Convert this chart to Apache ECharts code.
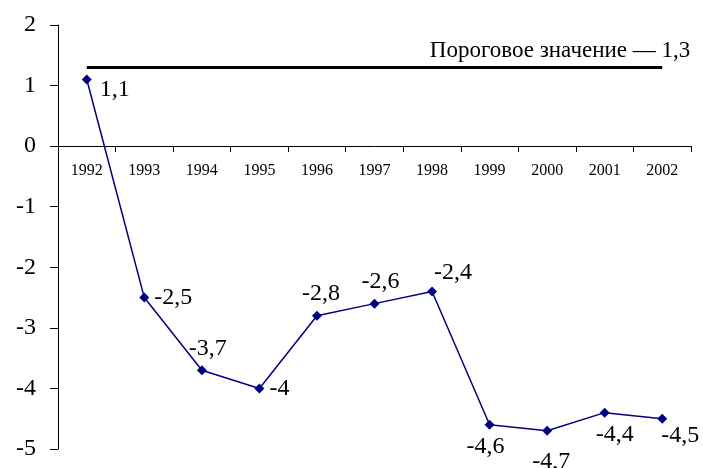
<!DOCTYPE html>
<html lang="ru" style="height: 100%">
<head>
  <meta charset="utf-8">
</head>
<body style="height: 100%; margin: 0; background: #fff">
  <div id="container" style="height: 100%"></div>

  <script type="text/javascript" src="https://fastly.jsdelivr.net/npm/echarts@6/dist/echarts.min.js"></script>

  <script type="text/javascript">
    const years = ['1992', '1993', '1994', '1995', '1996', '1997', '1998', '1999', '2000', '2001', '2002'];
    const values = [1.1, -2.5, -3.7, -4, -2.8, -2.6, -2.4, -4.6, -4.7, -4.4, -4.5];
    const threshold = 1.3;
    const thresholdText = 'Пороговое значение — 1,3';

    // where each value label sits relative to its point
    const labelPlace = [
      { position: 'right', offset: [3, 10] },
      { position: 'right', offset: [0, 0] },
      { position: 'top', offset: [6, 0] },
      { position: 'right', offset: [0, 0] },
      { position: 'top', offset: [4, 0] },
      { position: 'top', offset: [6, 0] },
      { position: 'top', offset: [21, 3] },
      { position: 'bottom', offset: [-4, 0] },
      { position: 'bottom', offset: [4, 9] },
      { position: 'bottom', offset: [10, 0] },
      { position: 'bottom', offset: [18, -5] }
    ];

    const font = '"Liberation Serif", "Times New Roman", serif';
    const fmt = v => String(v).replace('.', ',');

    var dom = document.getElementById('container');
    var myChart = echarts.init(dom, null, { renderer: 'canvas' });

    var option = {
      animation: false,
      textStyle: { fontFamily: font, color: '#000' },
      grid: { left: 58, right: 12, top: 25, bottom: 19 },
      xAxis: {
        type: 'category',
        data: years,
        boundaryGap: true,
        // category axis sits on the zero line
        offset: -303,
        axisLine: { onZero: false, lineStyle: { color: '#000', width: 1 } },
        axisTick: { show: true, length: 6, lineStyle: { color: '#000' } },
        axisLabel: { color: '#000', fontFamily: font, fontSize: 16, margin: 17 },
        splitLine: { show: false }
      },
      yAxis: {
        type: 'value',
        min: -5,
        max: 2,
        interval: 1,
        axisLine: { show: true, lineStyle: { color: '#000', width: 1 } },
        axisTick: { show: true, length: 8, lineStyle: { color: '#000' } },
        axisLabel: { color: '#000', fontFamily: font, fontSize: 24, margin: 22 },
        splitLine: { show: false }
      },
      series: [
        {
          name: 'threshold',
          type: 'line',
          symbol: 'circle',
          symbolSize: 0,
          lineStyle: { color: '#000', width: 3 },
          itemStyle: { color: '#000' },
          silent: true,
          data: years.map((y, i) => i === years.length - 1 ? {
            value: threshold,
            label: {
              show: true,
              formatter: thresholdText,
              position: 'top',
              align: 'right',
              offset: [28, 0],
              color: '#000',
              fontFamily: font,
              fontSize: 23
            }
          } : threshold)
        },
        {
          name: 'values',
          type: 'line',
          symbol: 'diamond',
          symbolSize: 10,
          lineStyle: { color: '#000080', width: 1.5 },
          itemStyle: { color: '#000080' },
          data: values.map((v, i) => ({
            value: v,
            label: {
              show: true,
              position: labelPlace[i].position,
              offset: labelPlace[i].offset,
              formatter: p => fmt(p.value),
              color: '#000',
              fontFamily: font,
              fontSize: 24
            }
          }))
        }
      ]
    };

    myChart.setOption(option);
    window.addEventListener('resize', myChart.resize);
  </script>
</body>
</html>
